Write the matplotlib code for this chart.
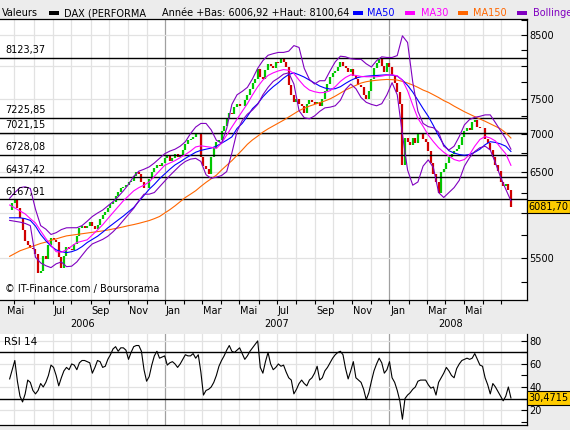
import numpy as np
import pandas as pd
import matplotlib
matplotlib.use("Agg")
import matplotlib.pyplot as plt
from matplotlib import transforms
from matplotlib.patches import Rectangle
from matplotlib.ticker import FixedLocator, NullLocator, FuncFormatter

# trading sessions shown on the chart (x axis = session number)
sessions = pd.bdate_range("2006-04-24", periods=584)

# DAX close, one value every 3 sessions
closes = [6040, 6120, 6160, 6060, 5950, 5810, 5690, 5640, 5610, 5600,
          5540, 5340, 5360, 5520, 5490, 5640, 5720, 5700, 5680, 5510,
          5400, 5520, 5620, 5600, 5590, 5650, 5740, 5830, 5860, 5830,
          5860, 5900, 5850, 5820, 5870, 5940, 5980, 6020, 6060, 6110,
          6140, 6210, 6260, 6300, 6320, 6340, 6380, 6390, 6460, 6500,
          6480, 6380, 6300, 6310, 6420, 6500, 6560, 6600, 6580, 6620,
          6690, 6720, 6650, 6680, 6740, 6700, 6710, 6790, 6870, 6920,
          6930, 6960, 7010, 7020, 6700, 6580, 6540, 6480, 6700, 6820,
          6900, 6920, 7040, 7110, 7210, 7300, 7280, 7380, 7420, 7400,
          7390, 7480, 7550, 7640, 7740, 7800, 7950, 7820, 7800, 7940,
          8020, 7990, 7960, 8060, 8040, 8100, 8060, 7980, 7700, 7560,
          7450, 7500, 7420, 7400, 7300, 7420, 7480, 7460, 7420, 7450,
          7400, 7500, 7620, 7720, 7830, 7880, 7920, 7980, 8060, 8000,
          7960, 7900, 7950, 7840, 7800, 7700, 7680, 7560, 7500, 7620,
          7800, 7960, 8040, 8100, 8000, 7900, 8050, 7980, 7850, 7740,
          7600, 7420, 6600, 6950, 6900, 6850, 6950, 6880, 7000, 7020,
          6940, 6900, 6780, 6620, 6480, 6380, 6250, 6500, 6540, 6620,
          6700, 6740, 6780, 6800, 6850, 6960, 7050, 7080, 7060, 7170,
          7200, 7100, 7080, 7090, 6930, 6880, 6790, 6700, 6600, 6520,
          6380, 6330, 6350, 6280, 6081.70]

# RSI 14, one value every 3 sessions
rsi14 = [47, 55, 63, 45, 32, 27, 34, 46, 44, 37,
         34, 37, 43, 40, 44, 50, 59, 57, 50, 41,
         48, 54, 57, 55, 60, 59, 55, 61, 63, 63,
         62, 61, 52, 57, 63, 62, 57, 58, 64, 68,
         73, 75, 71, 74, 74, 72, 64, 70, 75, 76,
         76, 71, 55, 45, 49, 59, 67, 71, 65, 66,
         67, 59, 61, 62, 60, 57, 60, 64, 68, 67,
         67, 69, 65, 68, 53, 33, 37, 38, 40, 44,
         50, 58, 63, 67, 72, 76, 71, 70, 72, 74,
         69, 64, 67, 71, 74, 77, 80, 57, 52, 62,
         70, 60, 55, 57, 60, 58, 59, 53, 48, 46,
         34, 38, 43, 46, 43, 41, 46, 48, 52, 58,
         46, 48, 54, 57, 61, 65, 68, 70, 71, 68,
         56, 47, 54, 62, 48, 46, 44, 38, 29, 35,
         45, 54, 60, 65, 61, 52, 55, 62, 48, 44,
         37, 28, 12, 30, 33, 35, 38, 40, 45, 46,
         46, 46, 42, 39, 40, 33, 44, 48, 52, 57,
         54, 50, 48, 56, 60, 63, 64, 65, 64, 65,
         69, 64, 59, 58, 48, 42, 34, 43, 40, 36,
         32, 28, 32, 40, 30.4715]

# indicators, one value every 6 sessions
ma150 = [5520, 5550, 5580, 5600, 5620, 5640, 5660, 5675, 5695, 5710,
         5728, 5744, 5752, 5760, 5768, 5776, 5784, 5792, 5800, 5810,
         5822, 5833, 5846, 5860, 5872, 5886, 5902, 5918, 5940, 5965,
         6005, 6045, 6090, 6140, 6190, 6230, 6272, 6325, 6375, 6420,
         6465, 6530, 6590, 6650, 6720, 6790, 6865, 6925, 6975, 7030,
         7075, 7115, 7155, 7195, 7240, 7285, 7330, 7365, 7395, 7420,
         7445, 7470, 7500, 7540, 7585, 7630, 7665, 7700, 7735, 7755,
         7768, 7777, 7784, 7789, 7786, 7780, 7760, 7735, 7705, 7670,
         7630, 7600, 7560, 7520, 7475, 7440, 7395, 7355, 7315, 7280,
         7245, 7212, 7180, 7145, 7110, 7075, 7020, 6950]
ma50 = [5950, 5950, 5950, 5940, 5920, 5855, 5760, 5690, 5630, 5590,
        5570, 5560, 5570, 5590, 5625, 5670, 5705, 5740, 5785, 5835,
        5880, 5925, 5970, 6020, 6070, 6145, 6215, 6290, 6350, 6420,
        6480, 6540, 6595, 6635, 6680, 6720, 6760, 6785, 6800, 6815,
        6840, 6880, 6920, 6965, 7080, 7150, 7250, 7360, 7430, 7530,
        7610, 7680, 7740, 7810, 7865, 7890, 7860, 7825, 7780, 7735,
        7690, 7660, 7645, 7650, 7680, 7730, 7775, 7810, 7830, 7838,
        7845, 7850, 7855, 7860, 7855, 7840, 7780, 7700, 7600, 7480,
        7360, 7250, 7120, 6980, 6860, 6780, 6750, 6730, 6720, 6730,
        6760, 6800, 6860, 6900, 6890, 6870, 6840, 6770]
ma30 = [6100, 6065, 6030, 5995, 5940, 5890, 5800, 5715, 5640, 5570,
        5565, 5590, 5630, 5670, 5685, 5700, 5755, 5810, 5870, 5940,
        6010, 6080, 6150, 6210, 6270, 6310, 6340, 6380, 6450, 6520,
        6590, 6620, 6650, 6690, 6730, 6775, 6830, 6845, 6835, 6825,
        6810, 6880, 6990, 7100, 7210, 7320, 7430, 7560, 7680, 7780,
        7850, 7890, 7920, 7940, 7930, 7880, 7780, 7690, 7630, 7605,
        7590, 7595, 7620, 7680, 7760, 7820, 7860, 7850, 7835, 7830,
        7830, 7830, 7840, 7855, 7860, 7845, 7780, 7620, 7410, 7220,
        7110, 6990, 6900, 6820, 6760, 6710, 6665, 6645, 6665, 6730,
        6840, 6930, 6970, 6950, 6910, 6820, 6740, 6590]
boll_up = [6180, 6250, 6310, 6320, 6300, 6050, 5860, 5820, 5760, 5780,
           5815, 5835, 5836, 5836, 5860, 5910, 5965, 6005, 6040, 6090,
           6140, 6200, 6270, 6350, 6450, 6515, 6540, 6570, 6620, 6680,
           6740, 6775, 6800, 6840, 6900, 7010, 7100, 7150, 7150, 7060,
           6920, 6880, 7080, 7420, 7560, 7610, 7670, 7800, 7960, 8080,
           8165, 8190, 8210, 8210, 8230, 8320, 8290, 7960, 7790, 7720,
           7770, 7770, 7920, 8060, 8150, 8140, 8110, 8100, 8100, 8030,
           7980, 8080, 8140, 8130, 8130, 8160, 8480, 8370, 7750, 7320,
           7150, 7105, 7090, 7030, 6840, 6790, 6840, 6970, 7130, 7205,
           7235, 7250, 7270, 7270, 7160, 7050, 6940, 6800]
boll_low = [5920, 5910, 5900, 5885, 5860, 5510, 5450, 5420, 5400, 5440,
            5460, 5410, 5415, 5460, 5530, 5600, 5655, 5680, 5705, 5740,
            5790, 5850, 5920, 5990, 6060, 6150, 6230, 6230, 6250, 6320,
            6390, 6460, 6525, 6590, 6640, 6670, 6680, 6640, 6470, 6425,
            6440, 6460, 6510, 6750, 7040, 7190, 7280, 7340, 7420, 7560,
            7670, 7760, 7810, 7870, 7890, 7720, 7330, 7230, 7215, 7255,
            7320, 7370, 7380, 7400, 7480, 7640, 7720, 7650, 7520, 7450,
            7420, 7400, 7430, 7560, 7740, 7560, 7000, 6530, 6340, 6380,
            6580, 6660, 6560, 6250, 6190, 6250, 6310, 6400, 6580, 6690,
            6770, 6820, 6840, 6790, 6620, 6440, 6290, 6150]

levels = [8123.37, 7225.85, 7021.15, 6728.08, 6437.42, 6167.91]
level_labels = ["8123,37", "7225,85", "7021,15", "6728,08", "6437,42", "6167,91"]
price_ticks = list(range(5250, 8751, 250))
price_labelled = [8500, 7500, 7000, 6500, 5500]
rsi_ticks = list(range(10, 81, 10))
rsi_labelled = [20, 40, 60, 80]
month_names = {1: "Jan", 3: "Mar", 5: "Mai", 7: "Jul", 9: "Sep", 11: "Nov"}

W, H = 570, 430
GREEN, RED = "#00c800", "#d00000"
BLUE, MAGENTA, ORANGE, PURPLE = "#0000ff", "#ff00ff", "#ff6600", "#8000c0"
GRID, YEARLINE = "#e2e2e2", "#a0a0a0"


def rect(x0, y0, x1, y1):
    return [x0 / W, 1 - y1 / H, (x1 - x0) / W, (y1 - y0) / H]


def fy(y):
    return 1 - y / H


fig = plt.figure(figsize=(W / 100, H / 100), dpi=100)
fig.patch.set_facecolor("#ececec")

ax = fig.add_axes(rect(0, 19, 526.7, 300))
ax2 = fig.add_axes(rect(0, 334, 526.7, 425))

close_x = np.arange(len(closes)) * 3
ind_x = np.arange(len(ma50)) * 6

# first session of each month
month_idx = [i for i in range(1, len(sessions)) if sessions[i].month != sessions[i - 1].month]

for a in (ax, ax2):
    a.set_facecolor("white")
    a.set_xlim(-11.2, 600.3)
    for m in month_idx:
        col = YEARLINE if sessions[m].month == 1 else GRID
        a.axvline(m, color=col, lw=0.9, zorder=0)
    a.spines["left"].set_visible(False)
    for s in ("right", "bottom", "top"):
        a.spines[s].set_color("black")
        a.spines[s].set_linewidth(0.9)
ax2.spines["top"].set_visible(False)

# ---- price panel ----
ax.set_yscale("log")
ax.set_ylim(5070, 8762)
for g in range(5500, 8501, 500):
    ax.axhline(g, color=GRID, lw=0.9, zorder=0)

prev = np.array(closes[:-1])
cur = np.array(closes[1:])
up = cur >= prev
ax.vlines(close_x[1:][up], prev[up], cur[up], color=GREEN, lw=1.6, zorder=2)
ax.vlines(close_x[1:][~up], prev[~up], cur[~up], color=RED, lw=1.6, zorder=2)

for lv, lab in zip(levels, level_labels):
    ax.axhline(lv, color="black", lw=1.0, zorder=3)
    ax.annotate(lab, xy=(5 / 526.7, lv), xycoords=("axes fraction", "data"),
                xytext=(0, 2), textcoords="offset points",
                fontsize=7, va="bottom", ha="left", zorder=5)

ax.plot(ind_x, ma150, color=ORANGE, lw=0.8, zorder=4)
ax.plot(ind_x, ma50, color=BLUE, lw=0.8, zorder=4)
ax.plot(ind_x, ma30, color=MAGENTA, lw=0.8, zorder=4)
ax.plot(ind_x, boll_up, color=PURPLE, lw=0.8, zorder=4)
ax.plot(ind_x, boll_low, color=PURPLE, lw=0.8, zorder=4)

ax.yaxis.tick_right()
ax.yaxis.set_major_locator(FixedLocator(price_ticks))
ax.yaxis.set_minor_locator(NullLocator())
ax.yaxis.set_major_formatter(FuncFormatter(
    lambda v, p: str(int(round(v))) if int(round(v)) in price_labelled else ""))
ax.tick_params(axis="y", direction="in", length=4, width=0.8, pad=2, labelsize=7)
ax.set_xticks(month_idx)
ax.tick_params(axis="x", direction="out", length=3, width=0.8, labelbottom=False)

ax.text(5 / 526.7, 6 / 281, "\u00a9 IT-Finance.com / Boursorama", transform=ax.transAxes,
        fontsize=7, va="bottom", ha="left", zorder=6)

# month and year labels
tx = transforms.blended_transform_factory(ax.transData, fig.transFigure)
first = True
for m in month_idx:
    mo = sessions[m].month
    if mo in month_names and m < 560:
        xm = -3 if first else m + 1.2
        first = False
        ax.text(xm, fy(311), month_names[mo], transform=tx, fontsize=7,
                ha="left", va="center", clip_on=False)
ax.text(-11.2 + 0.5 * (180 + 11.2), fy(324), "2006", transform=tx, fontsize=7,
        ha="center", va="center", clip_on=False)
ax.text(180 + 0.5 * 261, fy(324), "2007", transform=tx, fontsize=7,
        ha="center", va="center", clip_on=False)
ax.text(441 + 0.5 * (len(sessions) - 1 - 441), fy(324), "2008", transform=tx,
        fontsize=7, ha="center", va="center", clip_on=False)

# last value box
ty = transforms.blended_transform_factory(fig.transFigure, ax.transData)
ax.text(528.5 / W, closes[-1], "6081,70", transform=ty, fontsize=7, ha="left",
        va="center", clip_on=False, zorder=10,
        bbox=dict(boxstyle="square,pad=0.2", fc="#ffcc00", ec="black", lw=0.8))

# ---- RSI panel ----
ax2.set_ylim(7, 86)
for g in rsi_labelled:
    ax2.axhline(g, color=GRID, lw=0.9, zorder=0)
ax2.axhline(70, color="black", lw=1.0, zorder=3)
ax2.axhline(30, color="black", lw=1.0, zorder=3)
ax2.plot(close_x, rsi14, color="black", lw=0.8, zorder=4)
ax2.yaxis.tick_right()
ax2.set_yticks(rsi_ticks)
ax2.set_yticklabels([str(t) if t in rsi_labelled else "" for t in rsi_ticks])
ax2.tick_params(axis="y", direction="in", length=4, width=0.8, pad=2, labelsize=7)
ax2.set_xticks([])

ty2 = transforms.blended_transform_factory(fig.transFigure, ax2.transData)
ax2.text(528.5 / W, rsi14[-1], "30,4715", transform=ty2, fontsize=7, ha="left",
         va="center", clip_on=False, zorder=10,
         bbox=dict(boxstyle="square,pad=0.2", fc="#ffcc00", ec="black", lw=0.8))
fig.text(4 / W, fy(342), "RSI 14", fontsize=7.5, va="center", ha="left")

# ---- header / legend ----
hy = fy(13)
fig.text(2 / W, hy, "Valeurs", fontsize=7, va="center", ha="left")
fig.text(64 / W, hy, "DAX (PERFORMA", fontsize=7, va="center", ha="left")
fig.text(162 / W, hy, "Ann\u00e9e +Bas: 6006,92 +Haut: 8100,64", fontsize=7,
         va="center", ha="left")
legend_items = [(49, "black", None, None), (353, BLUE, 367, "MA50"),
                (405, MAGENTA, 421, "MA30"), (458, ORANGE, 473, "MA150"),
                (517, PURPLE, 533, "Bollinger")]
for bx, col, tx0, lab in legend_items:
    fig.add_artist(Rectangle((bx / W, fy(15)), 10 / W, 4 / H, transform=fig.transFigure,
                             facecolor=col, edgecolor="none"))
    if lab:
        fig.text(tx0 / W, hy, lab, color=col, fontsize=7, va="center", ha="left")

fig.savefig("out.png", dpi=100, facecolor=fig.get_facecolor())
